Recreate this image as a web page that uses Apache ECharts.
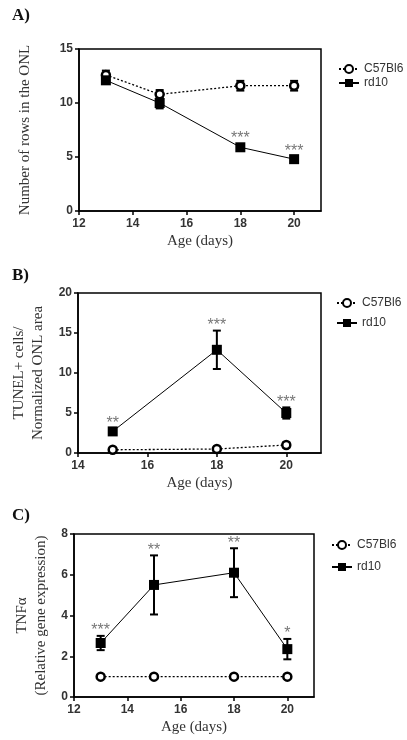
<!DOCTYPE html>
<html>
<head>
<meta charset="utf-8">
<script src="https://cdn.jsdelivr.net/npm/echarts@6/dist/echarts.min.js"></script>
<style>
html, body { margin: 0; padding: 0; background: #fff; }
#chart { width: 407px; height: 740px; }
</style>
</head>
<body>
<div id="chart"></div>
<script>
// panel A - rows in the ONL
var agesA = [13, 15, 18, 20]
var wtA = [12.6, 10.8, 11.6, 11.6]
var wtErrA = [0.4, 0.4, 0.45, 0.45]
var rdA = [12.1, 10.0, 5.9, 4.8]
var rdErrA = [0.3, 0.5, 0.3, 0.2]
var starsA = ['', '', '***', '***']

// panel B - TUNEL
var agesB = [15, 18, 20]
var wtB = [0.4, 0.5, 1.0]
var wtErrB = [0.1, 0.2, 0.3]
var rdB = [2.7, 12.9, 5.0]
var rdErrB = [0.4, 2.4, 0.7]
var starsB = ['**', '***', '***']

// panel C - TNFa
var agesC = [13, 15, 18, 20]
var wtC = [1, 1, 1, 1]
var wtErrC = [0, 0, 0, 0]
var rdC = [2.65, 5.5, 6.1, 2.35]
var rdErrC = [0.35, 1.45, 1.2, 0.5]
var starsC = ['***', '**', '**', '*']

var xTicksA = [12, 14, 16, 18, 20]
var xTicksB = [14, 16, 18, 20]
var xTicksC = [12, 14, 16, 18, 20]

var serif = 'Liberation Serif'
var sans = 'Liberation Sans'

function pairs(xs, ys) {
    return xs.map(function (x, i) { return [x, ys[i]] })
}

function errData(xs, ys, es) {
    return xs.map(function (x, i) { return [x, ys[i] - es[i], ys[i] + es[i]] })
}

// error bars, no name so they stay out of the legends
function errSeries(idx, xs, ys, es) {
    return {
        type: 'custom',
        xAxisIndex: idx,
        yAxisIndex: idx,
        z: 3,
        silent: true,
        data: errData(xs, ys, es),
        renderItem: function (params, api) {
            var lo = api.coord([api.value(0), api.value(1)])
            var hi = api.coord([api.value(0), api.value(2)])
            var w = 4
            var st = { stroke: '#000', lineWidth: 2 }
            return {
                type: 'group',
                children: [
                    { type: 'line', shape: { x1: lo[0], y1: lo[1], x2: hi[0], y2: hi[1] }, style: st },
                    { type: 'line', shape: { x1: lo[0] - w, y1: lo[1], x2: lo[0] + w, y2: lo[1] }, style: st },
                    { type: 'line', shape: { x1: hi[0] - w, y1: hi[1], x2: hi[0] + w, y2: hi[1] }, style: st }
                ]
            }
        }
    }
}

function starSeries(idx, xs, ys, es, labels) {
    return {
        type: 'custom',
        xAxisIndex: idx,
        yAxisIndex: idx,
        z: 5,
        silent: true,
        data: xs.map(function (x, i) { return [x, ys[i] + es[i]] }),
        renderItem: function (params, api) {
            var p = api.coord([api.value(0), api.value(1)])
            return {
                type: 'text',
                x: p[0],
                y: p[1] - 5,
                style: {
                    text: labels[params.dataIndex],
                    fill: '#777',
                    font: '16px ' + sans,
                    align: 'center',
                    verticalAlign: 'middle'
                }
            }
        }
    }
}

function lineSeries(name, idx, xs, ys) {
    var wt = name === 'C57Bl6'
    return {
        name: name,
        type: 'line',
        xAxisIndex: idx,
        yAxisIndex: idx,
        z: 4,
        color: wt ? '#fff' : '#000',
        data: pairs(xs, ys),
        symbol: wt ? 'circle' : 'rect',
        symbolSize: wt ? 8 : 10,
        showAllSymbol: true,
        animation: false,
        lineStyle: wt ? { color: '#000', width: 1.3, type: [2, 2] } : { color: '#000', width: 1 },
        itemStyle: wt ? { color: '#fff', borderColor: '#000', borderWidth: 2.5 } : { color: '#000', borderWidth: 0 },
        emphasis: { disabled: true }
    }
}

function xAxis(idx, min, ticks) {
    return {
        type: 'value',
        gridIndex: idx,
        min: min,
        max: 21,
        interval: 2,
        name: 'Age (days)',
        nameLocation: 'middle',
        nameGap: 23,
        nameTextStyle: { fontFamily: serif, fontSize: 15, color: '#333' },
        splitLine: { show: false },
        axisLine: { lineStyle: { color: '#000', width: 1.5 } },
        axisTick: { length: 4, lineStyle: { color: '#000', width: 1.5 }, customValues: ticks },
        axisLabel: { customValues: ticks, margin: 7, fontFamily: sans, fontSize: 12, fontWeight: 'bold', color: '#333' }
    }
}

function yAxis(idx, max, interval, name, gap) {
    return {
        type: 'value',
        gridIndex: idx,
        min: 0,
        max: max,
        interval: interval,
        name: name,
        nameLocation: 'middle',
        nameRotate: 90,
        nameGap: gap,
        nameTextStyle: { fontFamily: serif, fontSize: 15, color: '#333', lineHeight: 19 },
        splitLine: { show: false },
        axisLine: { lineStyle: { color: '#000', width: 1.5 } },
        axisTick: { length: 4, lineStyle: { color: '#000', width: 1.5 } },
        axisLabel: { margin: 6, fontFamily: sans, fontSize: 12, fontWeight: 'bold', color: '#333' }
    }
}

function legend(top, left, gap) {
    return {
        data: ['C57Bl6', 'rd10'],
        orient: 'vertical',
        top: top,
        left: left,
        padding: 0,
        itemWidth: 20,
        itemHeight: 10,
        itemGap: gap,
        selectedMode: false,
        textStyle: { fontFamily: sans, fontSize: 12, color: '#333' }
    }
}

var chart = echarts.init(document.getElementById('chart'))

var option = {
    backgroundColor: '#fff',
    animation: false,
    grid: [
        { left: 79, top: 49, width: 242, height: 162, show: true, borderColor: '#000', borderWidth: 1.5 },
        { left: 78, top: 293, width: 243, height: 160, show: true, borderColor: '#000', borderWidth: 1.5 },
        { left: 74, top: 534, width: 240, height: 163, show: true, borderColor: '#000', borderWidth: 1.5 }
    ],
    xAxis: [xAxis(0, 12, xTicksA), xAxis(1, 14, xTicksB), xAxis(2, 12, xTicksC)],
    yAxis: [
        yAxis(0, 15, 5, 'Number of rows in the ONL', 44),
        yAxis(1, 20, 5, 'TUNEL+ cells/\nNormalized ONL area', 24),
        yAxis(2, 8, 2, 'TNFα\n(Relative gene expression)', 17)
    ],
    legend: [legend(63, 338, 2), legend(297, 336, 8), legend(539, 331, 10)],
    graphic: [
        { type: 'text', left: 12, top: 7, style: { text: 'A)', font: 'bold 17px ' + serif, fill: '#111' } },
        { type: 'text', left: 12, top: 267, style: { text: 'B)', font: 'bold 17px ' + serif, fill: '#111' } },
        { type: 'text', left: 12, top: 507, style: { text: 'C)', font: 'bold 17px ' + serif, fill: '#111' } }
    ],
    series: [
        errSeries(0, agesA, wtA, wtErrA),
        errSeries(0, agesA, rdA, rdErrA),
        lineSeries('C57Bl6', 0, agesA, wtA),
        lineSeries('rd10', 0, agesA, rdA),
        starSeries(0, agesA, rdA, rdErrA, starsA),

        errSeries(1, agesB, wtB, wtErrB),
        errSeries(1, agesB, rdB, rdErrB),
        lineSeries('C57Bl6', 1, agesB, wtB),
        lineSeries('rd10', 1, agesB, rdB),
        starSeries(1, agesB, rdB, rdErrB, starsB),

        errSeries(2, agesC, wtC, wtErrC),
        errSeries(2, agesC, rdC, rdErrC),
        lineSeries('C57Bl6', 2, agesC, wtC),
        lineSeries('rd10', 2, agesC, rdC),
        starSeries(2, agesC, rdC, rdErrC, starsC)
    ]
}

chart.setOption(option)
</script>
</body>
</html>
